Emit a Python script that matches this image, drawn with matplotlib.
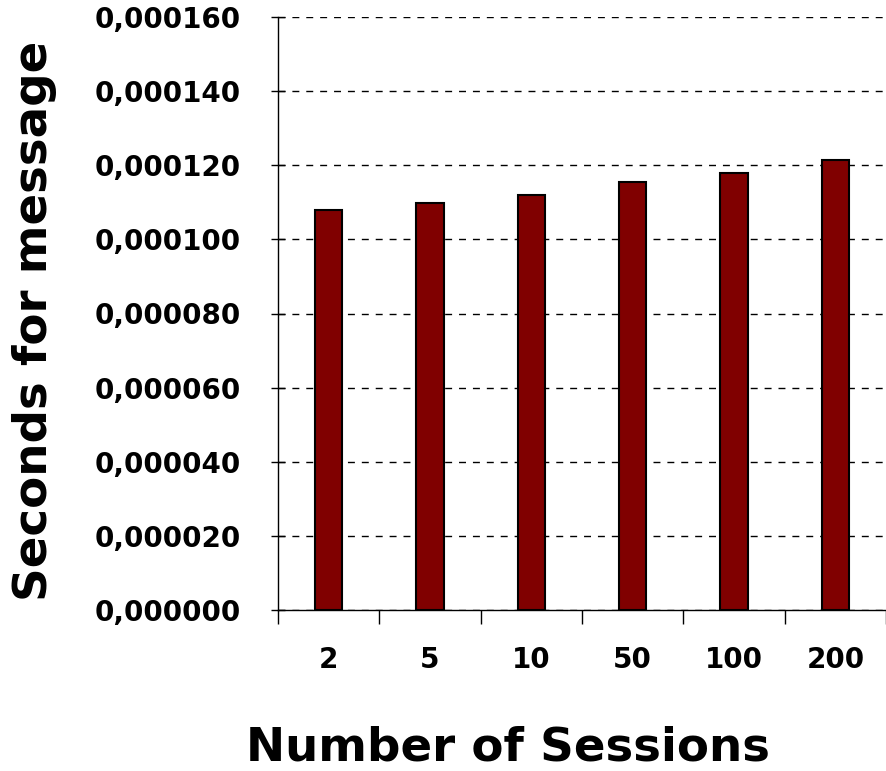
import matplotlib.pyplot as plt
from matplotlib.ticker import FuncFormatter, FixedLocator

# sessions vs time per message
sessions = ["2", "5", "10", "50", "100", "200"]
seconds = [0.0001078, 0.0001098, 0.0001120, 0.0001155, 0.0001180, 0.0001214]
yticks = [0.00000, 0.00002, 0.00004, 0.00006, 0.00008, 0.00010, 0.00012, 0.00014, 0.00016]

plt.rcParams['font.family'] = 'DejaVu Sans'
plt.rcParams['font.weight'] = 'bold'

fig = plt.figure(figsize=(8.87, 7.71), dpi=100)
ax = fig.add_axes([278 / 887, 1 - 610 / 771, 608 / 887, 593 / 771])

x = list(range(len(sessions)))
ax.bar(x, seconds, width=0.27, color='#800000', edgecolor='black', linewidth=1.5, zorder=3)

ax.set_xlim(-0.5, len(sessions) - 0.5)
ax.set_ylim(0, 0.00016)
ax.set_yticks(yticks)
ax.yaxis.set_major_formatter(FuncFormatter(lambda v, p: f"{v:.6f}".replace('.', ',')))
ax.yaxis.grid(True, linestyle=(0, (5, 5)), color='black', linewidth=1, zorder=0)

ax.set_xticks(x)
ax.set_xticklabels(sessions)
ax.xaxis.set_minor_locator(FixedLocator([i - 0.5 for i in range(len(sessions) + 1)]))
ax.tick_params(axis='x', which='major', length=0, pad=26, labelsize=20)
ax.tick_params(axis='x', which='minor', length=10, direction='out', width=1)
ax.tick_params(axis='y', length=10, direction='inout', width=1, pad=22, labelsize=20)

for side in ['top', 'right']:
    ax.spines[side].set_visible(False)
ax.spines['left'].set_linewidth(1)
ax.spines['bottom'].set_linewidth(1)

ax.set_xlabel("Number of Sessions", fontsize=33.7, fontweight='bold')
ax.set_ylabel("Seconds for message", fontsize=33.7, fontweight='bold')
ax.xaxis.set_label_coords(0.3775, -0.194)
ax.yaxis.set_label_coords(-0.364, 0.487)

fig.savefig("out.png", dpi=100)
